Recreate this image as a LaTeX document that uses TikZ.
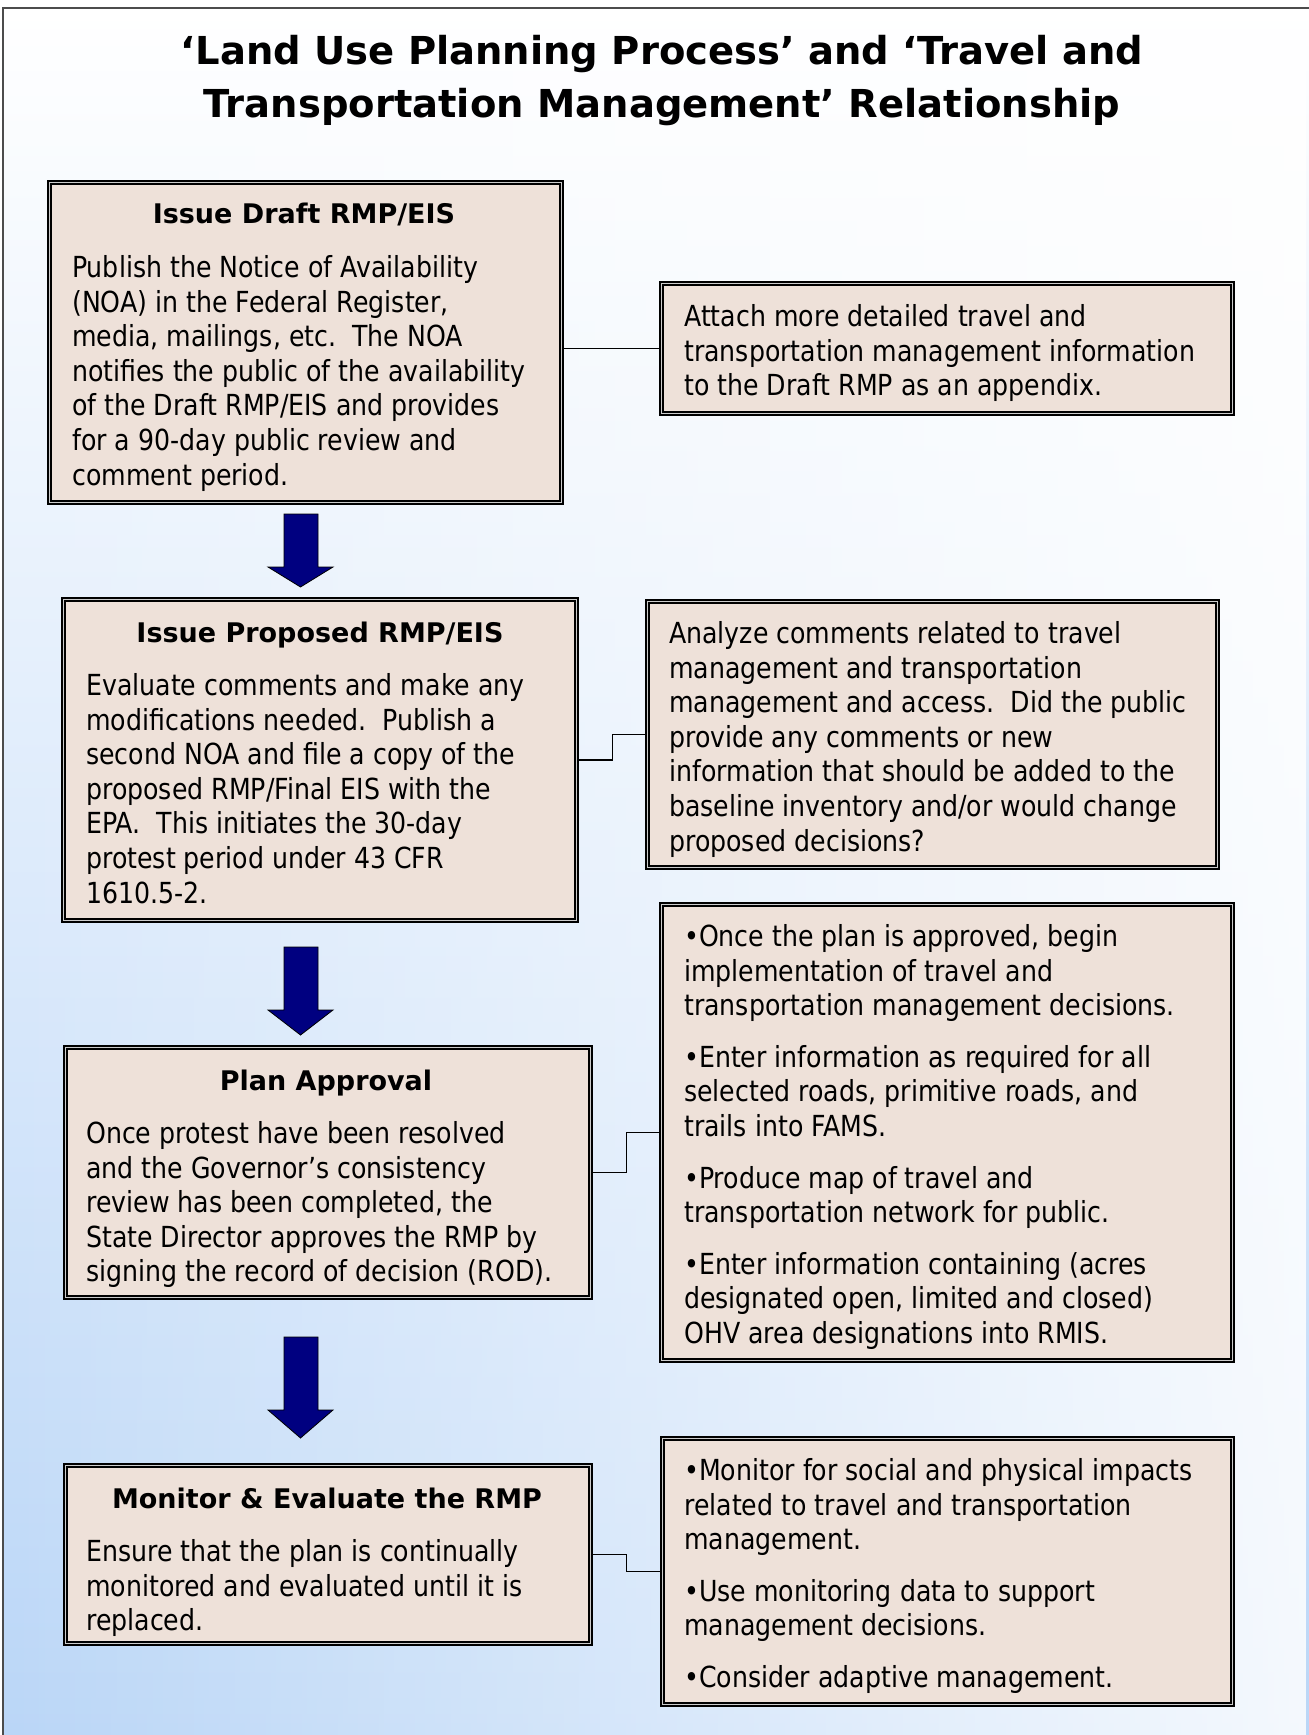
\documentclass[tikz,border=0pt]{standalone}
\usepackage{fontspec}
\setmainfont{DejaVu Sans}[FakeStretch=0.87]
\newfontfamily\headfont{DejaVu Sans}
\usetikzlibrary{fadings}
\definecolor{boxfill}{RGB}{238,225,217}
\definecolor{arrowblue}{RGB}{0,0,128}
\definecolor{bgblue}{RGB}{186,214,247}

\begin{document}
\begin{tikzpicture}[x=1pt,y=-1pt,
    panel/.style={draw=black, line width=1.6pt, double=gray!40, double distance=1.4pt,
      fill=boxfill, inner sep=0pt},
    link/.style={draw=black, line width=1.2pt},
    blockarrow/.style={fill=arrowblue, draw=black, line width=0.8pt, line join=miter},
    heading/.style={font=\headfont\bfseries\fontsize{27}{32}\selectfont,
      text height=20pt, text depth=6pt, inner sep=0pt},
    body/.style={anchor=north west, align=left, inner sep=0pt,
      font=\fontsize{29}{34.6}\selectfont}]
  \useasboundingbox (0,0) rectangle (1309,1735);

  \shade[top color=white, bottom color=bgblue] (3,8) rectangle (1309,1735);
  \fill[white, fill opacity=0.85, path fading=west] (3,8) rectangle (1309,1735);
  \draw [gray!60!black, line width=1.2pt] (3,1735) -- (3,8) -- (1309,8);

  \node [font=\headfont\bfseries\fontsize{38.5}{53}\selectfont, align=center] (title) at (662,81)
    {‘Land Use Planning Process’ and ‘Travel and\\Transportation Management’ Relationship};

  % left column
  \node [panel, minimum width=512.4, minimum height=320.4] (b1) at (305.5,342.5) {};
  \node [panel, minimum width=513.4, minimum height=321.4] (b2) at (320,760) {};
  \node [panel, minimum width=525.4, minimum height=250.4] (b3) at (328,1172.5) {};
  \node [panel, minimum width=525.4, minimum height=178.4] (b4) at (328,1554.5) {};

  % right column
  \node [panel, minimum width=571.4, minimum height=130.4] (r1) at (947,348.5) {};
  \node [panel, minimum width=570.4, minimum height=266.4] (r2) at (932.5,734.5) {};
  \node [panel, minimum width=571.4, minimum height=456.4] (r3) at (947,1132.5) {};
  \node [panel, minimum width=570.4, minimum height=266.4] (r4) at (947.5,1571.5) {};

  \draw [link] (r1.west) -- (r1.west -| b1.east);
  \draw [link] (b2.east) -- ++(35,0) |- (r2.west);
  \draw [link] (b3.east) -- ++(35,0) |- (r3.west);
  \draw [link] (b4.east) -- ++(35,0) |- (r4.west);

  \draw [blockarrow] (284,514) -- (318,514) -- (318,567) -- (333,567) -- (300.5,587)
    -- (268,567) -- (284,567) -- cycle;
  \draw [blockarrow] (284,947) -- (318,947) -- (318,1010) -- (333,1010) -- (300.5,1035)
    -- (268,1010) -- (284,1010) -- cycle;
  \draw [blockarrow] (284,1337) -- (318,1337) -- (318,1410) -- (333,1410) -- (300.5,1438)
    -- (268,1410) -- (284,1410) -- cycle;

  \node [heading] (h1) at (304,216) {Issue Draft RMP/EIS};
  \node [body] (t1) at (72,253) {\strut Publish the Notice of Availability\\
    (NOA) in the Federal Register,\\
    media, mailings, etc.\ \ The NOA\\
    notifies the public of the availability\\
    of the Draft RMP/EIS and provides\\
    for a 90-day public review and\\
    comment period.};

  \node [body] (s1) at (684,302) {\strut Attach more detailed travel and\\
    transportation management information\\
    to the Draft RMP as an appendix.};

  \node [heading] (h2) at (320,635) {Issue Proposed RMP/EIS};
  \node [body] (t2) at (86,671) {\strut Evaluate comments and make any\\
    modifications needed.\ \ Publish a\\
    second NOA and file a copy of the\\
    proposed RMP/Final EIS with the\\
    EPA.\ \ This initiates the 30-day\\
    protest period under 43 CFR\\
    1610.5-2.};

  \node [body] (s2) at (669,619) {\strut Analyze comments related to travel\\
    management and transportation\\
    management and access.\ \ Did the public\\
    provide any comments or new\\
    information that should be added to the\\
    baseline inventory and/or would change\\
    proposed decisions?};

  \node [heading] (h3) at (326,1083) {Plan Approval};
  \node [body] (t3) at (86,1119) {\strut Once protest have been resolved\\
    and the Governor’s consistency\\
    review has been completed, the\\
    State Director approves the RMP by\\
    signing the record of decision (ROD).};

  \node [body] (s3) at (684,922) {\strut •Once the plan is approved, begin\\
    implementation of travel and\\
    transportation management decisions.\\[17pt]
    •Enter information as required for all\\
    selected roads, primitive roads, and\\
    trails into FAMS.\\[17pt]
    •Produce map of travel and\\
    transportation network for public.\\[17pt]
    •Enter information containing (acres\\
    designated open, limited and closed)\\
    OHV area designations into RMIS.};

  \node [heading] (h4) at (327,1501) {Monitor \& Evaluate the RMP};
  \node [body] (t4) at (86,1537) {\strut Ensure that the plan is continually\\
    monitored and evaluated until it is\\
    replaced.};

  \node [body] (s4) at (684,1456) {\strut •Monitor for social and physical impacts\\
    related to travel and transportation\\
    management.\\[17pt]
    •Use monitoring data to support\\
    management decisions.\\[17pt]
    •Consider adaptive management.};
\end{tikzpicture}
\end{document}
